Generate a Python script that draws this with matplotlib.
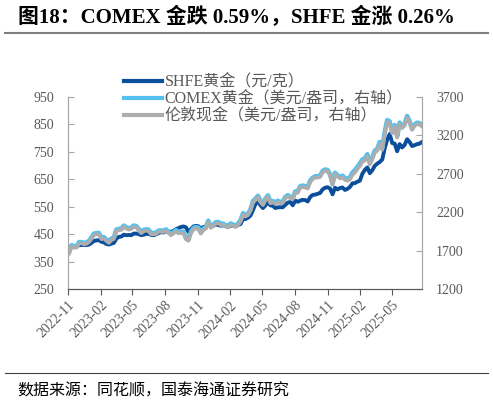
import matplotlib
matplotlib.use("Agg")
import matplotlib.pyplot as plt
import matplotlib.dates as mdates
from matplotlib.lines import Line2D
import pandas as pd

plt.rcParams['font.family'] = ['Liberation Serif', 'Noto Sans CJK SC', 'DejaVu Sans']

# weekly closes (Fridays), 2022-11-04 .. 2025-07-25
dates = pd.date_range('2022-11-04', periods=143, freq='W-FRI')

comex = [
    1680, 1770, 1755, 1755, 1810, 1810, 1800, 1805, 1826,
    # 2023
    1870, 1920, 1926, 1930, 1865, 1875, 1842, 1817, 1856, 1868, 1973, 1983, 1986,
    2025, 2003, 1990, 1999, 2025, 2019, 1981, 1944, 1969, 1977, 1971, 1929, 1929,
    1932, 1961, 1962, 1959, 1976, 1946, 1916, 1940, 1966, 1942, 1946, 1945, 1866,
    1845, 1941, 1994, 2006, 1999, 1937, 1984, 2003, 2089, 2014, 2035, 2069, 2072,
    # 2024
    2050, 2051, 2029, 2018, 2053, 2038, 2024, 2051, 2096, 2186, 2161, 2180, 2238,
    2345, 2374, 2413, 2347, 2309, 2375, 2419, 2334, 2345, 2325, 2349, 2331, 2339,
    2398, 2421, 2399, 2386, 2470, 2470, 2538, 2546, 2538, 2524, 2611, 2646, 2668,
    2667, 2676, 2736, 2755, 2749, 2694, 2570, 2712, 2681, 2658, 2675, 2645, 2635,
    # 2025
    2655, 2715, 2748, 2790, 2835, 2886, 2900, 2954, 2848, 2914, 3001, 3023, 3114,
    3035, 3245, 3400, 3380, 3243, 3334, 3187, 3365, 3315, 3346, 3452, 3385, 3287,
    3342, 3365, 3358, 3336,
]

london = [
    1662, 1752, 1738, 1738, 1792, 1793, 1783, 1787, 1810,
    # 2023
    1852, 1902, 1909, 1912, 1848, 1858, 1825, 1800, 1838, 1850, 1955, 1966, 1968,
    2008, 1986, 1972, 1981, 2008, 2002, 1963, 1926, 1951, 1959, 1953, 1911, 1911,
    1914, 1944, 1944, 1941, 1958, 1928, 1898, 1922, 1948, 1924, 1928, 1927, 1848,
    1827, 1923, 1976, 1988, 1981, 1919, 1966, 1985, 2071, 1996, 2017, 2051, 2054,
    # 2024
    2032, 2033, 2011, 2000, 2035, 2020, 2006, 2033, 2078, 2168, 2143, 2162, 2220,
    2327, 2356, 2395, 2329, 2291, 2357, 2401, 2316, 2327, 2307, 2331, 2313, 2321,
    2380, 2403, 2381, 2368, 2452, 2452, 2520, 2528, 2520, 2506, 2593, 2628, 2650,
    2649, 2658, 2718, 2737, 2731, 2676, 2552, 2694, 2663, 2640, 2650, 2620, 2610,
    # 2025
    2625, 2685, 2715, 2760, 2800, 2855, 2870, 2925, 2820, 2885, 2975, 3000, 3085,
    3010, 3220, 3375, 3355, 3225, 3315, 3170, 3345, 3295, 3325, 3430, 3365, 3270,
    3325, 3345, 3340, 3315,
]

shfe = [
    398, 407, 405, 404, 410, 410, 411, 410, 412,
    # 2023
    418, 425, 427, 428, 422, 420, 414, 412, 415, 418, 433, 440, 441,
    448, 446, 447, 446, 452, 452, 450, 446, 448, 451, 451, 447, 446,
    449, 454, 457, 456, 460, 460, 458, 462, 468, 472, 476, 478, 475,
    458, 468, 478, 480, 479, 470, 476, 477, 485, 479, 480, 486, 483,
    # 2024
    481, 482, 479, 478, 480, 481, 479, 483, 487, 505, 505, 510, 518,
    538, 560, 570, 555, 545, 555, 567, 555, 553, 545, 548, 548, 548,
    557, 565, 567, 555, 572, 568, 572, 575, 574, 569, 585, 593, 594,
    597, 600, 613, 619, 621, 616, 595, 619, 613, 618, 620, 611, 615,
    # 2025
    622, 635, 636, 641, 645, 670, 684, 693, 672, 683, 699, 707, 713,
    722, 763, 795, 815, 782, 780, 752, 778, 766, 775, 796, 786, 771,
    774, 778, 780, 786,
]

left_ticks = [250, 350, 450, 550, 650, 750, 850, 950]
right_ticks = [1200, 1700, 2200, 2700, 3200, 3700]

c_shfe = '#0B4F9C'
c_comex = '#55C1EE'
c_ldn = '#ADADAD'
grey_txt = '#595959'

fig = plt.figure(figsize=(4.93, 4.04), dpi=100)
ax = fig.add_axes([0.138, 0.2847, 0.718, 0.4753])
ax2 = ax.twinx()

ax.plot(dates, shfe, color=c_shfe, lw=2.8, solid_joinstyle='round')
ax2.plot(dates, comex, color=c_comex, lw=3.3, solid_joinstyle='round')
ax2.plot(dates, london, color=c_ldn, lw=2.6, solid_joinstyle='round')

ax.set_ylim(250, 950)
ax.set_yticks(left_ticks)
ax2.set_ylim(1200, 3700)
ax2.set_yticks(right_ticks)

ax.set_xlim(pd.Timestamp('2022-11-01'), dates[-1])
ax.xaxis.set_major_locator(mdates.MonthLocator(bymonth=[2, 5, 8, 11]))
ax.xaxis.set_major_formatter(mdates.DateFormatter('%Y-%m'))
for lab in ax.get_xticklabels():
    lab.set_rotation(45)
    lab.set_ha('right')
    lab.set_rotation_mode('anchor')

for a in (ax, ax2):
    a.spines['top'].set_visible(False)
    a.spines['left'].set_color('#A6A6A6')
    a.spines['right'].set_color('#A6A6A6')
    a.spines['bottom'].set_color('#595959')

ax.tick_params(axis='y', direction='in', length=4, color='#A6A6A6', labelsize=10, labelcolor=grey_txt, pad=10)
ax2.tick_params(axis='y', direction='in', length=4, color='#A6A6A6', labelsize=10, labelcolor=grey_txt, pad=10)
ax.tick_params(axis='x', direction='out', length=4, color='#595959', labelsize=10, labelcolor=grey_txt, pad=3)

handles = [
    Line2D([], [], color=c_shfe, lw=3),
    Line2D([], [], color=c_comex, lw=3),
    Line2D([], [], color=c_ldn, lw=3),
]
labels = ['SHFE黄金（元/克）', 'COMEX黄金（美元/盎司，右轴）', '伦敦现金（美元/盎司，右轴）']
fig.legend(handles, labels, loc='upper left', bbox_to_anchor=(0.235, 0.836),
           frameon=False, borderpad=0, handlelength=2.4, handletextpad=0.15,
           labelspacing=0.07, prop={'size': 11.5}, labelcolor=grey_txt)

fig.text(0.037, 0.957, '图18：COMEX 金跌 0.59%，SHFE 金涨 0.26%',
         fontsize=15, fontweight='bold', va='center', ha='left', color='black')
fig.add_artist(Line2D([0.01, 0.99], [0.918, 0.918], color='#7F7F7F', lw=1.5))
fig.add_artist(Line2D([0.01, 0.99], [0.076, 0.076], color='#404040', lw=0.8))
fig.text(0.035, 0.032, '数据来源：同花顺，国泰海通证券研究', fontsize=11.5,
         va='center', ha='left', color='black', family=['Noto Sans CJK SC'])

plt.savefig('out.png', dpi=100)
